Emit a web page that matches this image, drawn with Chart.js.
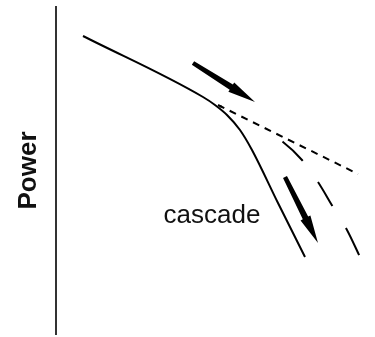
<!DOCTYPE html>
<html>
<head>
<meta charset="utf-8">
<script src="https://cdn.jsdelivr.net/npm/chart.js@4/dist/chart.umd.min.js"></script>
<style>
  html, body { margin: 0; padding: 0; background: #fff; }
  #wrap { width: 375px; height: 337px; }
</style>
</head>
<body>
<div id="wrap"><canvas id="cascadeChart"></canvas></div>
<script>
// Sketch units: x = log frequency, y = log power (arbitrary units)
const solidX = [27, 147, 159, 171, 184, 196, 222, 249];
const solidY = [298, 237, 229, 219, 204, 184, 131, 77];

const extrapX = [162, 302];
const extrapY = [229, 160];

const branchX = [164, 196, 227, 246, 262, 277, 291, 304];
const branchY = [228, 211, 192, 174, 152, 127, 104, 77];

const arrowOneX = [137, 199];
const arrowOneY = [271, 232];
const arrowTwoX = [229, 262];
const arrowTwoY = [157, 91];

const labelText = "cascade";
const labelPos = [156, 111];

const axisTitle = "Power";

function toPoints(xs, ys) {
  return xs.map((x, i) => ({ x: x, y: ys[i] }));
}

const FONT = "'Liberation Sans', Arial, sans-serif";

// draws tapered arrows from the arrow datasets' points
const arrowPlugin = {
  id: "arrows",
  afterDatasetsDraw(chart) {
    const ctx = chart.ctx;
    chart.data.datasets.forEach((ds, i) => {
      if (!ds.isArrow) return;
      const pts = chart.getDatasetMeta(i).data;
      const a = pts[0], b = pts[pts.length - 1];
      const dx = b.x - a.x, dy = b.y - a.y;
      const len = Math.hypot(dx, dy);
      const ux = dx / len, uy = dy / len;
      const nx = -uy, ny = ux;
      const headLen = 28, headW = 5.5, tail = 2.2, neck = 3;
      const bx = b.x - ux * headLen, by = b.y - uy * headLen;
      ctx.save();
      ctx.fillStyle = "#000";
      ctx.beginPath();
      ctx.moveTo(a.x + nx * tail, a.y + ny * tail);
      ctx.lineTo(bx + nx * neck, by + ny * neck);
      ctx.lineTo(bx + nx * headW, by + ny * headW);
      ctx.lineTo(b.x, b.y);
      ctx.lineTo(bx - nx * headW, by - ny * headW);
      ctx.lineTo(bx - nx * neck, by - ny * neck);
      ctx.lineTo(a.x - nx * tail, a.y - ny * tail);
      ctx.closePath();
      ctx.fill();
      ctx.restore();
    });
  },
};

const labelPlugin = {
  id: "cascadeLabel",
  afterDraw(chart) {
    const { ctx, scales } = chart;
    ctx.save();
    ctx.font = "26px " + FONT;
    ctx.fillStyle = "#111";
    ctx.textAlign = "center";
    ctx.textBaseline = "alphabetic";
    ctx.fillText(labelText, scales.x.getPixelForValue(labelPos[0]), scales.y.getPixelForValue(labelPos[1]));
    ctx.restore();
  },
};

new Chart(document.getElementById("cascadeChart"), {
  type: "scatter",
  data: {
    datasets: [
      {
        label: "spectrum",
        data: toPoints(solidX, solidY),
        showLine: true,
        borderColor: "#000",
        borderWidth: 2,
        pointRadius: 0,
        cubicInterpolationMode: "monotone",
      },
      {
        label: "extrapolation",
        data: toPoints(extrapX, extrapY),
        showLine: true,
        borderColor: "#000",
        borderWidth: 2,
        borderDash: [7, 6],
        pointRadius: 0,
      },
      {
        label: "branch",
        data: toPoints(branchX, branchY),
        showLine: true,
        borderColor: "#000",
        borderWidth: 2,
        borderDash: [2, 70, 28, 26, 28, 26, 30, 26, 30, 26],
        pointRadius: 0,
        cubicInterpolationMode: "monotone",
      },
      {
        label: "arrow1",
        data: toPoints(arrowOneX, arrowOneY),
        isArrow: true,
        showLine: false,
        pointRadius: 0,
      },
      {
        label: "arrow2",
        data: toPoints(arrowTwoX, arrowTwoY),
        isArrow: true,
        showLine: false,
        pointRadius: 0,
      },
    ],
  },
  options: {
    responsive: true,
    maintainAspectRatio: false,
    animation: false,
    layout: { padding: { top: 7, bottom: 3, left: 0, right: 0 } },
    plugins: {
      legend: { display: false },
      tooltip: { enabled: false },
    },
    scales: {
      x: {
        type: "linear",
        min: 0,
        max: 319,
        display: false,
      },
      y: {
        type: "linear",
        min: 0,
        max: 327,
        grid: { display: false },
        ticks: { display: false },
        border: { display: true, color: "#333", width: 2 },
        title: {
          display: true,
          text: axisTitle,
          color: "#111",
          font: { family: FONT, size: 26, weight: "bold" },
          padding: { top: 13, bottom: 0 },
        },
        afterFit(scale) {
          scale.width = 56;
        },
      },
    },
  },
  plugins: [arrowPlugin, labelPlugin],
});
</script>
</body>
</html>
